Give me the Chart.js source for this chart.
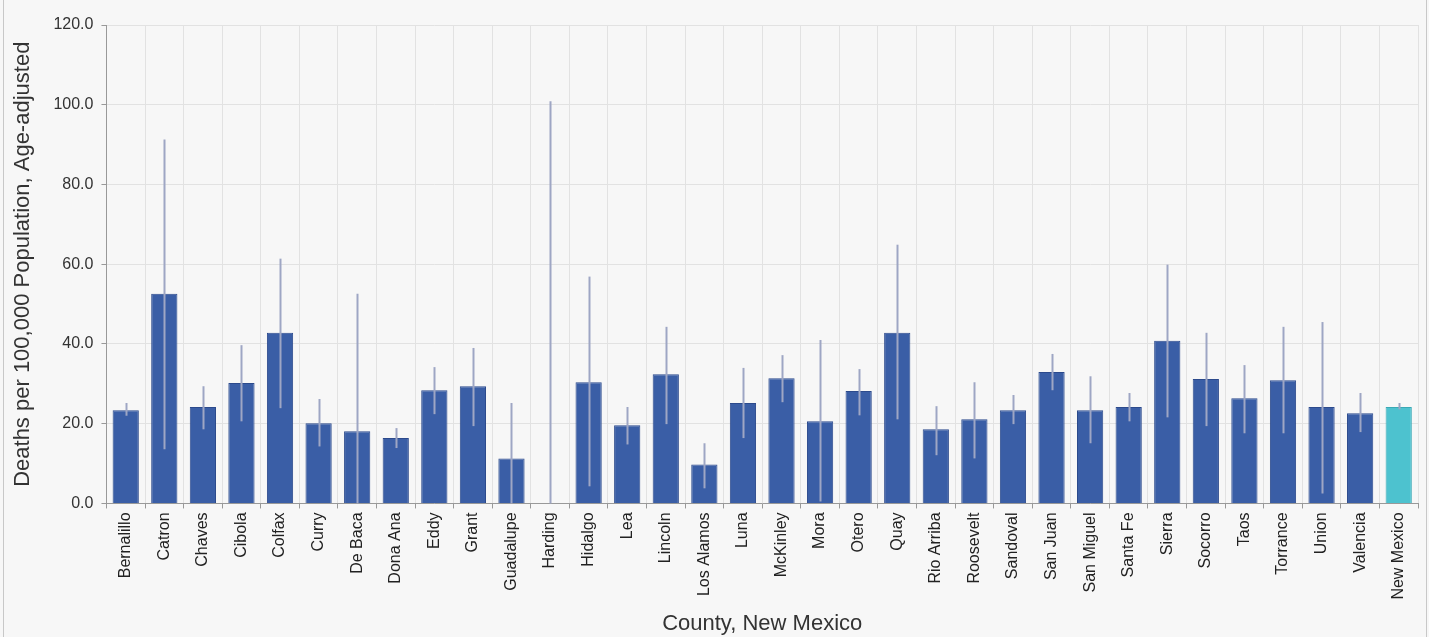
<!DOCTYPE html>
<html>
<head>
<meta charset="utf-8">
<script src="https://cdn.jsdelivr.net/npm/chart.js@4"></script>
<style>
  html, body { margin: 0; padding: 0; background: #f7f7f7; }
  #wrap { position: relative; height: 637px; box-sizing: border-box;
          border-left: 1px solid #c8c8c8; border-right: 1px solid #c8c8c8; margin-left: 3px; width: 1424px; }
</style>
</head>
<body>
<div id="wrap"><canvas id="rate-chart"></canvas></div>
<script>

const counties = ["Bernalillo", "Catron", "Chaves", "Cibola", "Colfax", "Curry", "De Baca", "Dona Ana",
    "Eddy", "Grant", "Guadalupe", "Harding", "Hidalgo", "Lea", "Lincoln", "Los Alamos", "Luna",
    "McKinley", "Mora", "Otero", "Quay", "Rio Arriba", "Roosevelt", "Sandoval", "San Juan",
    "San Miguel", "Santa Fe", "Sierra", "Socorro", "Taos", "Torrance", "Union", "Valencia", "New Mexico"];

// age-adjusted rate
const rates = [23.4, 52.6, 24.2, 30.2, 42.8, 20.1, 18.1, 16.4, 28.4, 29.4, 11.3, 0, 30.4, 19.6, 32.4,
    9.8, 25.2, 31.4, 20.6, 28.2, 42.8, 18.6, 21.1, 23.4, 33.0, 23.4, 24.2, 40.8, 31.2, 26.4, 30.9,
    24.2, 22.6, 24.2];

// 95% confidence interval
const lowerCI = [22.0, 13.6, 18.6, 20.6, 23.9, 14.3, 0, 13.9, 22.4, 19.4, 0, 0, 4.3, 14.8, 19.9,
    3.8, 16.4, 25.4, 0.5, 22.1, 21.1, 12.1, 11.3, 19.9, 28.4, 15.1, 20.6, 21.6, 19.4, 17.6, 17.6,
    2.5, 17.9, 23.6];
const upperCI = [25.2, 91.3, 29.4, 39.7, 61.4, 26.2, 52.6, 18.9, 34.2, 39.0, 25.2, 100.9, 56.9, 24.2, 44.3,
    15.1, 34.0, 37.2, 41.0, 33.7, 64.9, 24.4, 30.4, 27.2, 37.5, 31.9, 27.7, 59.9, 42.8, 34.7, 44.3,
    45.5, 27.7, 25.2];

const yTicks = [0, 20, 40, 60, 80, 100, 120];

const barColors = counties.map(c => c === "New Mexico" ? "#4dc2cf" : "#3a5ea6");
const borderColors = counties.map(c => c === "New Mexico" ? "#3aa9b5" : "#2c4a8c");

// draws the confidence interval lines over the bars
const errorBars = {
    id: 'errorBars',
    afterDatasetsDraw(chart) {
        const ctx = chart.ctx;
        const xScale = chart.scales.x;
        const yScale = chart.scales.y;
        ctx.save();
        ctx.strokeStyle = "#9ea6c4";
        ctx.lineWidth = 2;
        counties.forEach((c, i) => {
            const x = Math.round(xScale.getPixelForValue(i)) + 0.5;
            ctx.beginPath();
            ctx.moveTo(x, yScale.getPixelForValue(lowerCI[i]));
            ctx.lineTo(x, yScale.getPixelForValue(upperCI[i]));
            ctx.stroke();
        });
        ctx.restore();
    }
};

Chart.defaults.font.family = "'Liberation Sans', Arial, sans-serif";
Chart.defaults.color = "#333";

new Chart(document.getElementById("rate-chart"), {
    type: 'bar',
    data: {
        labels: counties,
        datasets: [{
            label: "Deaths per 100,000 Population, Age-adjusted",
            data: rates,
            backgroundColor: barColors,
            borderColor: borderColors,
            borderWidth: 1,
            categoryPercentage: 1.0,
            barPercentage: 0.68
        }]
    },
    options: {
        responsive: true,
        maintainAspectRatio: false,
        animation: false,
        layout: {
            padding: { left: 6, right: 8, top: 25, bottom: 0 }
        },
        plugins: {
            legend: { display: false },
            tooltip: { enabled: false }
        },
        scales: {
            x: {
                grid: { color: "#e2e2e2", tickColor: "#999", tickLength: 5, offset: true },
                border: { color: "#999" },
                ticks: {
                    minRotation: 90,
                    maxRotation: 90,
                    autoSkip: false,
                    padding: 4,
                    font: { size: 16 },
                    color: "#222"
                },
                title: {
                    display: true,
                    text: "County, New Mexico",
                    font: { size: 22 },
                    color: "#333",
                    padding: { top: 7, bottom: 0 }
                }
            },
            y: {
                min: 0,
                max: 120,
                afterBuildTicks(axis) {
                    axis.ticks = yTicks.map(v => ({ value: v }));
                },
                grid: { color: "#e2e2e2", tickColor: "#999", tickLength: 5 },
                border: { color: "#999" },
                ticks: {
                    font: { size: 16 },
                    color: "#333",
                    padding: 8,
                    callback: v => Number(v).toFixed(1)
                },
                title: {
                    display: true,
                    text: "Deaths per 100,000 Population, Age-adjusted",
                    font: { size: 22 },
                    color: "#333",
                    padding: { top: 0, bottom: 9 }
                }
            }
        }
    },
    plugins: [errorBars]
});
</script>
</body>
</html>
